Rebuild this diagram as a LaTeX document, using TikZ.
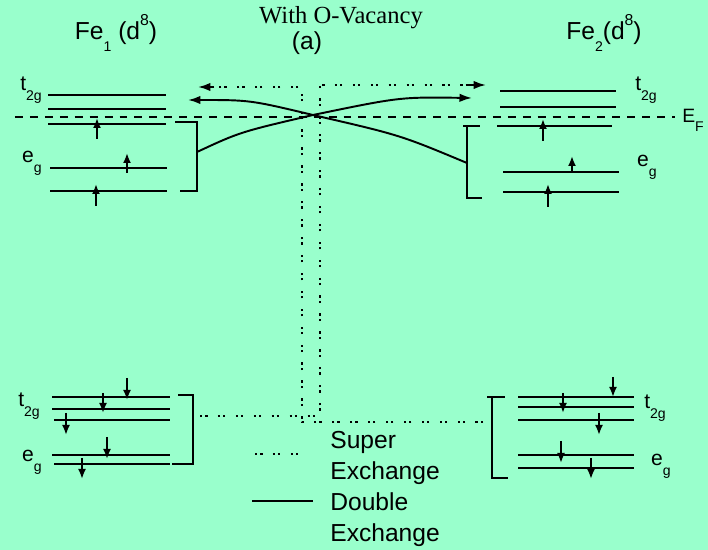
\documentclass[tikz,border=0pt]{standalone}
\usepackage{fontspec}
\setmainfont{Liberation Serif}
\setsansfont{Liberation Sans}
\usetikzlibrary{arrows.meta}
\definecolor{mint}{RGB}{153,255,204}
\definecolor{ink}{RGB}{0,0,0}
\newcommand{\lowidx}[1]{\raisebox{-0.9ex}{\fontsize{8}{8}\selectfont #1}}
\newcommand{\highidx}[1]{\raisebox{1.1ex}{\fontsize{9}{9}\selectfont #1}}
\tikzset{
  >={Latex[length=2.5mm,width=1.7mm]},
  orb/.style={draw=ink,line width=1.1pt},
  spin/.style={draw=ink,line width=1.1pt,-{Latex[length=2mm,width=1.6mm]}},
  brk/.style={draw=ink,line width=1.1pt},
  sx/.style={draw=ink,line width=1.1pt,dash pattern=on 1.3pt off 1.7pt on 1.3pt off 5.9pt},
  dx/.style={draw=ink,line width=1.1pt},
  fermi/.style={draw=ink,line width=1.1pt,dash pattern=on 4.5pt off 4pt},
  lbl/.style={font=\fontsize{12}{12}\selectfont\sffamily,inner sep=0pt},
  head/.style={font=\fontsize{14}{14}\selectfont\sffamily,inner sep=0pt},
  legtxt/.style={font=\fontsize{14}{17.6}\selectfont\sffamily,align=left,anchor=west,inner sep=0pt},
}
\begin{document}
\begin{tikzpicture}[x=0.02cm,y=-0.02cm]
  \fill[mint] (0,0) rectangle (708,550);
  % titles
  \node[font=\fontsize{14}{14}\selectfont,inner sep=0pt] (title) at (341,18) {With O-Vacancy};
  \node[head] (case) at (307,43) {(a)};
  \node[head] (fe1) at (116,33) {Fe\lowidx{1} (d\highidx{8})};
  \node[head] (fe2) at (604,33) {Fe\lowidx{2}(d\highidx{8})};
  % Fermi level
  \draw[fermi] (15,117) -- (675,117);
  \node[font=\fontsize{11}{11}\selectfont\sffamily,inner sep=0pt] (ef) at (693,120) {E\lowidx{F}};
  % orbital levels
  \foreach \xa/\xb/\y in {48/166/95,48/166/109,48/166/124,50/167/168,50/167/191,
    500/616/91,500/616/107,497/612/126,503/619/172,503/619/192,
    52/170/397,52/170/409,54/170/420,52/170/455,54/170/464,
    518/634/397,518/634/407,518/634/420,518/634/455,518/634/468}
    \draw[orb] (\xa,\y) -- (\xb,\y);
  % spins
  \foreach \x/\ya/\yb in {97/139/118,127/173/153,96/206/184,
    543/141/119,572/172/156,548/207/184,
    127/378/400,103/393/413,66/413/435,107/437/459,82/458/479,
    613/377/397,563/393/413,599/413/435,561/441/463,591/458/479}
    \draw[spin] (\x,\ya) -- (\x,\yb);
  % labels
  \node[lbl] (t1) at (31,90) {t\lowidx{2g}};
  \node[lbl] (e1) at (32,163) {e\lowidx{g}};
  \node[lbl] (t2) at (646,90) {t\lowidx{2g}};
  \node[lbl] (e2) at (647,167) {e\lowidx{g}};
  \node[lbl] (t3) at (29,406) {t\lowidx{2g}};
  \node[lbl] (e3) at (32,462) {e\lowidx{g}};
  \node[lbl] (t4) at (655,408) {t\lowidx{2g}};
  \node[lbl] (e4) at (661,466) {e\lowidx{g}};
  % brackets
  \draw[brk] (175,122) -- (197,122) -- (197,191) -- (180,191);
  \draw[brk] (463,126) -- (480,126) (467,126) -- (467,198) -- (482,198);
  \draw[brk] (178,395) -- (193,395) -- (193,464) -- (172,464);
  \draw[brk] (487,397) -- (505,397) (492,397) -- (492,478) -- (508,478);
  \coordinate (up1) at (197,152);
  \coordinate (up2) at (467,163);
  \coordinate (dn1) at (200,416);
  \coordinate (dn2) at (483,422);
  \coordinate (cross) at (313,115);
  \coordinate (toR) at (472,98);
  \coordinate (toL) at (188,100);
  \coordinate (sxR) at (486,85);
  \coordinate (sxL) at (198,87);
  % double exchange
  \draw[dx,->] (up1) .. controls (240,132) .. (cross) .. controls (400,97) .. (toR);
  \draw[dx,->] (up2) .. controls (400,135) .. (cross) .. controls (250,100) .. (toL);
  % super exchange
  \draw[sx] (dn1) -- (320,416) -- (320,85) -- (466,85);
  \draw[dx,->] (466,85) -- (sxR);
  \draw[sx] (dn2) -- (302,422) -- (302,87) -- (214,87);
  \draw[dx,->] (214,87) -- (sxL);
  % legend
  \draw[sx] (255,454) -- (307,454);
  \draw[dx] (252,501) -- (313,501);
  \node[legtxt] (lsx) at (330,458) {Super\\Exchange};
  \node[legtxt] (ldx) at (330,520) {Double\\Exchange};
\end{tikzpicture}
\end{document}
